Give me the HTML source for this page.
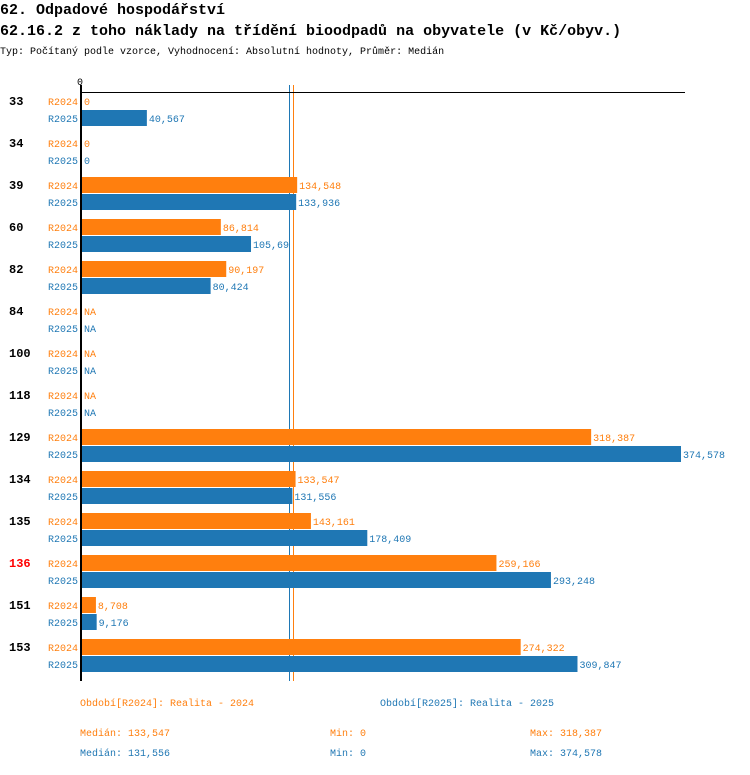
<!DOCTYPE html>
<html><head><meta charset="utf-8"><style>
body{margin:0;background:#fff;width:750px;height:770px;overflow:hidden}
svg{font-family:"Liberation Mono",monospace}
</style></head><body>
<svg id="chart" width="750" height="770" viewBox="0 0 750 770">
<text x="0" y="14" font-size="15" font-weight="bold">62. Odpadové hospodářství</text>
<text x="0" y="35" font-size="15" font-weight="bold">62.16.2 z toho náklady na třídění bioodpadů na obyvatele (v Kč/obyv.)</text>
<text x="0" y="54" font-size="10">Typ: Počítaný podle vzorce, Vyhodnocení: Absolutní hodnoty, Průměr: Medián</text>
<text x="77" y="85" font-size="10">0</text>
<g id="medians"></g>
<line x1="80" y1="92.5" x2="685" y2="92.5" stroke="#000" stroke-width="1"/>
<g id="bars"></g>
<line x1="81" y1="85" x2="81" y2="681" stroke="#000" stroke-width="2"/>
<text x="80" y="706" font-size="10" fill="#ff7f0e">Období[R2024]: Realita - 2024</text>
<text x="380" y="706" font-size="10" fill="#1f77b4">Období[R2025]: Realita - 2025</text>
<text x="80" y="736" font-size="10" fill="#ff7f0e">Medián: 133,547</text>
<text x="330" y="736" font-size="10" fill="#ff7f0e">Min: 0</text>
<text x="530" y="736" font-size="10" fill="#ff7f0e">Max: 318,387</text>
<text x="80" y="756" font-size="10" fill="#1f77b4">Medián: 131,556</text>
<text x="330" y="756" font-size="10" fill="#1f77b4">Min: 0</text>
<text x="530" y="756" font-size="10" fill="#1f77b4">Max: 374,578</text>
</svg>
<script>
const categories=["33","34","39","60","82","84","100","118","129","134","135","136","151","153"];
const highlighted=["136"];
const values2024=[0,0,134548,86814,90197,null,null,null,318387,133547,143161,259166,8708,274322];
const values2025=[40567,0,133936,105690,80424,null,null,null,374578,131556,178409,293248,9176,309847];
const labels2024=["0","0","134,548","86,814","90,197","NA","NA","NA","318,387","133,547","143,161","259,166","8,708","274,322"];
const labels2025=["40,567","0","133,936","105,69","80,424","NA","NA","NA","374,578","131,556","178,409","293,248","9,176","309,847"];
const medians=[133547,131556];
const NS="http://www.w3.org/2000/svg";
const x0=82, xScale=599/374578;
function xPos(v){return x0+v*xScale;}
function yGroup(i){return 92+42*i;}
const g=document.getElementById('bars');
const gm=document.getElementById('medians');
function mk(tag,attrs){const e=document.createElementNS(NS,tag);for(const k in attrs)e.setAttribute(k,attrs[k]);return e;}
[["#1f77b4",medians[1]],["#ff7f0e",medians[0]]].forEach((m,k)=>{
  const x=Math.round(xPos(m[1]))-2.5;
  const l=mk('line',{x1:x,y1:85,x2:x,y2:681,stroke:m[0],'stroke-width':1,'shape-rendering':'crispEdges'});
  
  
  gm.appendChild(l);
});
const series=[{vals:values2024,labs:labels2024,name:"R2024",color:"#ff7f0e",off:1},{vals:values2025,labs:labels2025,name:"R2025",color:"#1f77b4",off:18}];
categories.forEach((c,i)=>{
  const gy=yGroup(i);
  const t=mk('text',{x:9,y:gy+13,'font-size':12,'font-weight':'bold',fill:highlighted.includes(c)?'#ff0000':'#000'});
  t.textContent=c;
  
  
  g.appendChild(t);
  series.forEach(s=>{
    const y=gy+s.off;
    const sl=mk('text',{x:78,y:y+12,'font-size':10,fill:s.color,'text-anchor':'end'});
    sl.textContent=s.name;
    
    
    g.appendChild(sl);
    const v=s.vals[i];
    let end=x0;
    if(v!==null&&v>0){
      end=xPos(v);
      const r=mk('rect',{x:x0,y:y,width:end-x0,height:16,fill:s.color});
      
      
      g.appendChild(r);
    }
    const vl=mk('text',{x:end+2,y:y+12,'font-size':10,fill:s.color});
    vl.textContent=s.labs[i];
    
    
    g.appendChild(vl);
  });
});
</script>
</body></html>
